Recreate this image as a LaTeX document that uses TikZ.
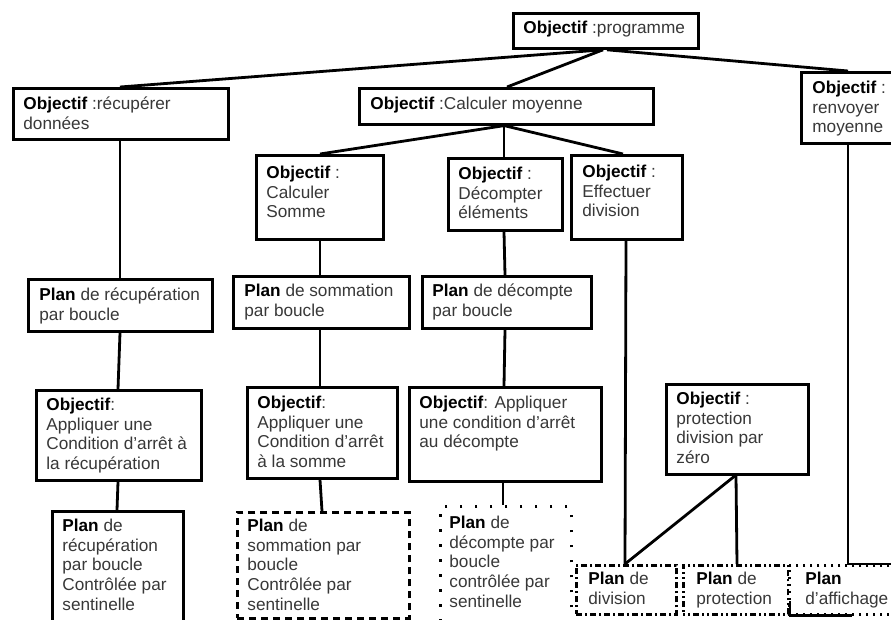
\documentclass[tikz,border=0pt]{standalone}
\usepackage{fontspec}
\setmainfont{Liberation Sans}
\usepackage{xcolor}

% key word at the start of each box
\newcommand\kw[1]{{\color{black}\bfseries #1}}
% fixed-size cell: width, height, left inset, first baseline offset, lines
\newcommand\cell[5]{%
  \begin{minipage}[t][#2][t]{#1}%
    \hspace*{#3}%
    \begin{tabular}[t]{@{}l@{}}\rule{0pt}{#4}#5\end{tabular}%
  \end{minipage}}

\begin{document}
\begin{tikzpicture}[x=1pt,y=-1pt,
  box/.style={draw=black, line width=2.8pt, anchor=north west, inner sep=0pt,
              fill=white, text=black!78,
              font=\fontsize{17.2pt}{19.7pt}\selectfont},
  dashbox/.style={box, dash pattern=on 7pt off 5pt},
  dotbox/.style={box, dash pattern=on 2.5pt off 12.5pt},
  dashdotbox/.style={box, dash pattern=on 6pt off 3pt on 2pt off 3pt},
  dashdotdotbox/.style={box, dash pattern=on 2pt off 3pt on 2pt off 3pt on 6pt off 3pt},
  finedotbox/.style={box, dash pattern=on 2pt off 5pt},
  link/.style={draw=black, line width=2.8pt},
]
\useasboundingbox (0,0) rectangle (891,619);
\clip (0,0) rectangle (891,619);
\fill[white] (0,0) rectangle (891,619);

% ---- level 0
\node[box] (prog) at (512,12) {\cell{185pt}{35pt}{10pt}{20pt}{\kw{Objectif} :programme}};

% ---- level 1
\node[box] (recup) at (12,87) {\cell{215pt}{51pt}{10pt}{21pt}{\kw{Objectif} :récupérer\\données}};
\node[box] (moy) at (358,87) {\cell{294pt}{36pt}{11pt}{21pt}{\kw{Objectif} :Calculer moyenne}};
\node[box] (renv) at (800,71) {\cell{110pt}{71pt}{11pt}{21pt}{\kw{Objectif} :\\renvoyer\\moyenne}};

% ---- level 2
\node[box] (som) at (255,154) {\cell{127pt}{84pt}{10pt}{23pt}{\kw{Objectif} :\\Calculer\\Somme}};
\node[box] (dec) at (447,157) {\cell{114pt}{72pt}{10pt}{21pt}{\kw{Objectif} :\\Décompter\\éléments}};
\node[box] (eff) at (570,154) {\cell{111pt}{84pt}{11pt}{22pt}{\kw{Objectif} :\\Effectuer\\division}};

% ---- plans
\node[box] (precup) at (27,278) {\cell{184pt}{52pt}{11pt}{21pt}{\kw{Plan} de récupération\\par boucle}};
\node[box] (psom) at (232,275) {\cell{176pt}{52pt}{11pt}{20pt}{\kw{Plan} de sommation\\par boucle}};
\node[box] (pdec) at (421,275) {\cell{169pt}{52pt}{10pt}{20pt}{\kw{Plan} de décompte\\par boucle}};

% ---- stop conditions
\node[box] (arec) at (35,389) {\cell{165pt}{90pt}{10pt}{20pt}{\kw{Objectif}:\\Appliquer une\\Condition d’arrêt à\\la récupération}};
\node[box] (asom) at (246,386) {\cell{150pt}{91pt}{10pt}{21pt}{\kw{Objectif}:\\Appliquer une\\Condition d’arrêt\\à la somme}};
\node[box] (adec) at (408,386) {\cell{192pt}{94pt}{10pt}{21pt}{\kw{Objectif}: Appliquer\\une condition d’arrêt\\au décompte}};
\node[box] (aprot) at (665,383) {\cell{142pt}{90pt}{10pt}{20pt}{\kw{Objectif} :\\protection\\division par\\zéro}};

% ---- bottom plans
\node[box] (srec) at (51,510) {\cell{131pt}{118pt}{10pt}{20pt}{\kw{Plan} de\\récupération\\par boucle\\Contrôlée par\\sentinelle}};
\node[dashbox] (ssom) at (236,511) {\cell{172pt}{106pt}{10pt}{19pt}{\kw{Plan} de\\sommation par\\boucle\\Contrôlée par\\sentinelle}};
\node[dotbox] (sdec) at (439,505) {\cell{131pt}{120pt}{9pt}{22pt}{\kw{Plan} de\\décompte par\\boucle\\contrôlée par\\sentinelle}};
\node[dashdotbox] (pdiv) at (575,564) {\cell{100pt}{49pt}{12pt}{19pt}{\kw{Plan} de\\division}};
\node[dashdotdotbox] (pprot) at (682,564) {\cell{105pt}{49pt}{13pt}{19pt}{\kw{Plan} de\\protection}};
\node[finedotbox] (paff) at (788,564) {\cell{120pt}{49pt}{16pt}{19pt}{\kw{Plan}\\d’affichage}};

\coordinate (affend) at (900,564);

% ---- connectors
\draw[link] ([xshift=91pt]prog.south west) -- ([xshift=108pt]recup.north west);
\draw[link] ([xshift=91pt]prog.south west) -- ([xshift=149pt]moy.north west);
\draw[link] ([xshift=95pt]prog.south west) -- ([xshift=48pt]renv.north west);

\draw[link] ([xshift=145pt]moy.south west) -- ([xshift=65pt]som.north west);
\draw[link] ([xshift=146pt]moy.south west) -- ([xshift=57pt]dec.north west);
\draw[link] ([xshift=147pt]moy.south west) -- ([xshift=53pt]eff.north west);

\draw[link] ([xshift=108pt]recup.south west) -- ([xshift=93pt]precup.north west);
\draw[link] ([xshift=65pt]som.south west) -- ([xshift=88pt]psom.north west);
\draw[link] ([xshift=57pt]dec.south west) -- ([xshift=84pt]pdec.north west);
\draw[link] ([xshift=56pt]eff.south west) -- ([xshift=50pt]pdiv.north west);

\draw[link] ([xshift=93pt]precup.south west) -- ([xshift=83pt]arec.north west);
\draw[link] ([xshift=83pt]arec.south west) -- ([xshift=66pt]srec.north west);
\draw[link] ([xshift=88pt]psom.south west) -- ([xshift=74pt]asom.north west);
\draw[link] ([xshift=74pt]asom.south west) -- ([xshift=86pt]ssom.north west);
\draw[link] ([xshift=84pt]pdec.south west) -- ([xshift=96pt]adec.north west);
\draw[link] ([xshift=95pt]adec.south west) -- ([xshift=64pt]sdec.north west);

\draw[link] ([xshift=70pt]aprot.south west) -- ([xshift=50pt]pdiv.north west);
\draw[link] ([xshift=71pt]aprot.south west) -- ([xshift=55pt]pprot.north west);

\draw[link] ([xshift=48pt]renv.south west) |- (affend);

% solid corner along the lower left of the display plan
\draw[link] ([xshift=2pt,yshift=15pt]paff.south west) -- ([xshift=2pt]paff.south west) -- ([xshift=64pt]paff.south west);
\end{tikzpicture}
\end{document}
